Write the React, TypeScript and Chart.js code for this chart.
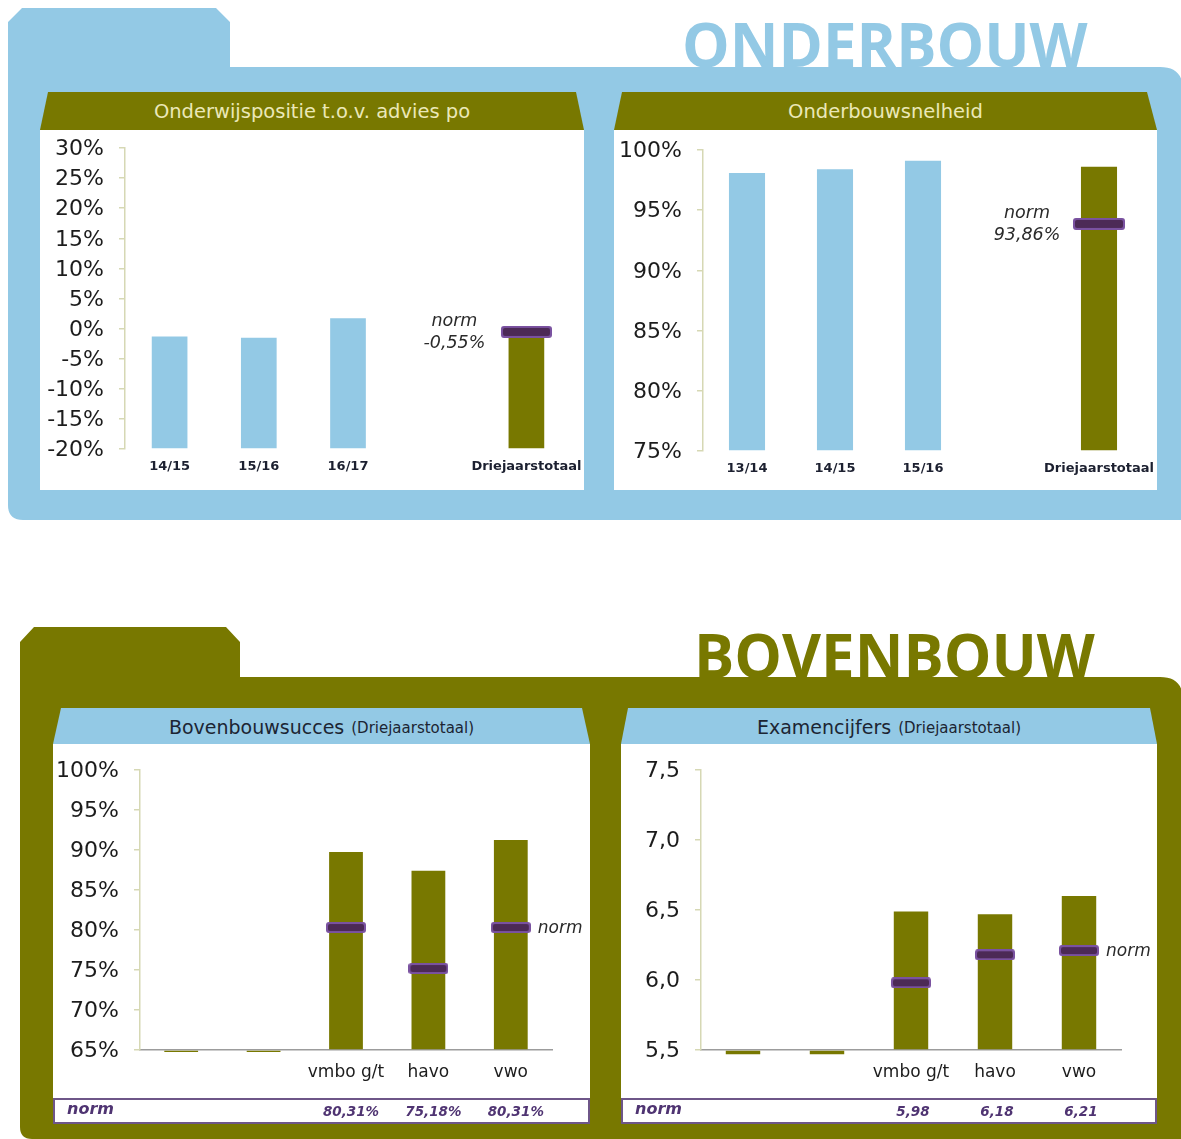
import React, { useEffect, useRef } from 'react';
import { Chart, registerables } from 'chart.js';

Chart.register(...registerables);

// ---------- DATA ----------
const posCategories = ['14/15', '15/16', '16/17', '', 'Driejaarstotaal'];
const posValues = [-1.3, -1.5, 1.7, null, -1.1];
const posNorms = [null, null, null, null, -0.55];
const posNormLabel = '-0,55%';
const posYTicks = { min: -20, max: 30, step: 5 };

const snelCategories = ['13/14', '14/15', '15/16', '', 'Driejaarstotaal'];
const snelValues = [98.1, 98.4, 99.1, null, 98.6];
const snelNorms = [null, null, null, null, 93.86];
const snelNormLabel = '93,86%';
const snelYTicks = { min: 75, max: 100, step: 5 };

const succesCategories = ['', '', 'vmbo g/t', 'havo', 'vwo'];
const succesValues = [64.75, 64.75, 89.75, 87.4, 91.25];
const succesNorms = [null, null, 80.31, 75.18, 80.31];
const succesNormLabels = ['', '', '80,31%', '75,18%', '80,31%'];
const succesYTicks = { min: 65, max: 100, step: 5 };

const examCategories = ['', '', 'vmbo g/t', 'havo', 'vwo'];
const examValues = [5.47, 5.47, 6.49, 6.47, 6.6];
const examNorms = [null, null, 5.98, 6.18, 6.21];
const examNormLabels = ['', '', '5,98', '6,18', '6,21'];
const examYTicks = { min: 5.5, max: 7.5, step: 0.5 };

// ---------- STYLE ----------
const BLUE = '#93c9e5';
const OLIVE = '#787800';
const AXIS_COL = '#d6d8b4';
const TICK_COL = '#1c1c1c';
const FONT = "'DejaVu Sans', Verdana, sans-serif";

function makeMarker(w: number, h: number) {
  const c = document.createElement('canvas');
  c.width = w;
  c.height = h;
  const ctx = c.getContext('2d')!;
  ctx.fillStyle = '#7a52a0';
  ctx.beginPath();
  (ctx as any).roundRect(0, 0, w, h, 3);
  ctx.fill();
  ctx.fillStyle = '#4c2a56';
  ctx.beginPath();
  (ctx as any).roundRect(2, 2, w - 4, h - 4, 2);
  ctx.fill();
  return c;
}

type Cfg = {
  categories: string[];
  values: (number | null)[];
  norms: (number | null)[];
  barColors: string[];
  yTicks: { min: number; max: number; step: number };
  fmt: (v: number) => string;
  yWidth: number;
  xHeight: number;
  padTop: number;
  padRight: number;
  xFont: any;
  xColor: string;
  xPad: number;
  xBorder: boolean;
  barPct: number;
  marker: HTMLCanvasElement;
  plugin: any;
};

function buildConfig(c: Cfg): any {
  return {
    type: 'bar',
    data: {
      labels: c.categories,
      datasets: [
        {
          type: 'line',
          data: c.norms,
          showLine: false,
          pointStyle: c.marker,
          pointRadius: 6,
          pointHoverRadius: 6,
          order: 0,
        },
        {
          type: 'bar',
          data: c.values,
          base: c.yTicks.min,
          backgroundColor: c.barColors,
          borderWidth: 0,
          categoryPercentage: 1,
          barPercentage: c.barPct,
          clip: false,
          order: 1,
        },
      ],
    },
    options: {
      responsive: false,
      animation: false,
      devicePixelRatio: 1,
      layout: { autoPadding: false, padding: { top: c.padTop, right: c.padRight, left: 0, bottom: 0 } },
      plugins: { legend: { display: false }, tooltip: { enabled: false } },
      scales: {
        x: {
          grid: { display: false, drawTicks: false },
          border: { display: c.xBorder, color: '#9c9c9c', width: 1.5 },
          ticks: { font: c.xFont, color: c.xColor, padding: c.xPad, maxRotation: 0, autoSkip: false },
          afterFit: (s: any) => {
            s.height = c.xHeight;
          },
        },
        y: {
          min: c.yTicks.min,
          max: c.yTicks.max,
          ticks: {
            stepSize: c.yTicks.step,
            autoSkip: false,
            labelOffset: 1.5,
            font: { family: FONT, size: 22 },
            color: TICK_COL,
            padding: 15,
            callback: (v: any) => c.fmt(Number(v)),
          },
          grid: { drawOnChartArea: false, drawTicks: true, tickLength: 6, color: AXIS_COL, lineWidth: 1.5 },
          border: { color: AXIS_COL, width: 1.5 },
          afterFit: (s: any) => {
            s.width = c.yWidth;
          },
        },
      },
    },
    plugins: [c.plugin],
  };
}

// annotation for top charts: "norm" + value to the left of marker
function topNormPlugin(label: string) {
  return {
    id: 'topNorm',
    afterDatasetsDraw(chart: any) {
      const meta = chart.getDatasetMeta(0);
      const idx = meta.data.length - 1;
      const pt = meta.data[idx];
      const ctx = chart.ctx;
      ctx.save();
      ctx.fillStyle = '#2a2a2a';
      ctx.textAlign = 'center';
      ctx.textBaseline = 'middle';
      ctx.font = `italic 17.5px ${FONT}`;
      ctx.fillText('norm', pt.x - 72, pt.y - 10);
      ctx.fillText(label, pt.x - 72, pt.y + 12);
      ctx.restore();
    },
  };
}

// annotation + table for bottom charts
function bottomNormPlugin(labels: string[], tableTop: number, valOffset: number) {
  return {
    id: 'bottomNorm',
    afterDraw(chart: any) {
      const meta = chart.getDatasetMeta(0);
      const last = meta.data[meta.data.length - 1];
      const ctx = chart.ctx;
      const xs = chart.scales.x;
      ctx.save();
      ctx.fillStyle = '#2a2a2a';
      ctx.textAlign = 'left';
      ctx.textBaseline = 'middle';
      ctx.font = `italic 17px ${FONT}`;
      ctx.fillText('norm', last.x + 27, last.y + 1);
      // table row
      const w = chart.width;
      ctx.strokeStyle = '#6e5688';
      ctx.lineWidth = 2;
      ctx.strokeRect(1, tableTop + 1, w - 2, 24);
      ctx.fillStyle = '#4f3472';
      ctx.font = `italic bold 16px ${FONT}`;
      ctx.fillText('norm', 14, tableTop + 12);
      ctx.font = `italic bold 13.5px ${FONT}`;
      ctx.textAlign = 'center';
      labels.forEach((l, i) => {
        if (l) ctx.fillText(l, xs.getPixelForValue(i) + valOffset, tableTop + 14);
      });
      ctx.restore();
    },
  };
}

function ChartBox({ left, top, width, height, build }: any) {
  const ref = useRef<HTMLCanvasElement>(null);
  useEffect(() => {
    const chart = new Chart(ref.current!, build());
    return () => chart.destroy();
  }, []);
  return (
    <canvas
      ref={ref}
      width={width}
      height={height}
      style={{ position: 'absolute', left, top, width, height, display: 'block' }}
    />
  );
}

const pct = (v: number) => `${v}%`;
const comma = (v: number) => v.toFixed(1).replace('.', ',');

function Header({ x, y, w, h, color, size, children }: any) {
  return (
    <div
      style={{
        position: 'absolute',
        left: x,
        top: y,
        width: w,
        height: h,
        display: 'flex',
        alignItems: 'center',
        justifyContent: 'center',
        color,
        fontFamily: FONT,
        fontSize: size,
        whiteSpace: 'nowrap',
      }}
    >
      {children}
    </div>
  );
}

export default function App() {
  const topBarColors = [BLUE, BLUE, BLUE, BLUE, OLIVE];
  const botBarColors = [OLIVE, OLIVE, OLIVE, OLIVE, OLIVE];
  return (
    <div
      style={{
        position: 'absolute',
        left: 0,
        top: 0,
        width: 1181,
        height: 1139,
        overflow: 'hidden',
        background: '#ffffff',
      }}
    >
      <div
        style={{
          position: 'absolute',
          left: 682,
          top: 14,
          fontFamily: "'Open Sans', sans-serif",
          fontWeight: 700,
          fontSize: 60,
          lineHeight: '60px',
          color: BLUE,
          whiteSpace: 'nowrap',
        }}
      >
        ONDERBOUW
      </div>
      <div
        style={{
          position: 'absolute',
          left: 694,
          top: 625,
          fontFamily: "'Open Sans', sans-serif",
          fontWeight: 700,
          fontSize: 60,
          lineHeight: '60px',
          color: OLIVE,
          whiteSpace: 'nowrap',
        }}
      >
        BOVENBOUW
      </div>
      <svg width={1181} height={1139} style={{ position: 'absolute', left: 0, top: 0 }}>
        <path
          d="M 8 22 L 22 8 L 216 8 L 230 22 L 230 67 L 1160 67 Q 1183 67 1183 90 L 1183 520 L 23 520 Q 8 520 8 505 Z"
          fill={BLUE}
        />
        <path
          d="M 20 642 L 34 627 L 226 627 L 240 642 L 240 677 L 1160 677 Q 1183 677 1183 700 L 1183 1139 L 32 1139 Q 20 1139 20 1127 Z"
          fill={OLIVE}
        />
        <path d="M 48 92 L 576 92 L 584 130 L 40 130 Z" fill={OLIVE} />
        <path d="M 622 92 L 1147 92 L 1157 130 L 614 130 Z" fill={OLIVE} />
        <path d="M 61 708 L 582 708 L 590 744 L 53 744 Z" fill={BLUE} />
        <path d="M 628 708 L 1150 708 L 1157 744 L 621 744 Z" fill={BLUE} />
        <rect x={40} y={130} width={544} height={360} fill="#ffffff" />
        <rect x={614} y={130} width={543} height={360} fill="#ffffff" />
        <rect x={53} y={744} width={537} height={380} fill="#ffffff" />
        <rect x={621} y={744} width={536} height={380} fill="#ffffff" />
      </svg>

      <Header x={40} y={92} w={544} h={38} color="#ebe8b8" size={19.5}>
        Onderwijspositie t.o.v. advies po
      </Header>
      <Header x={614} y={92} w={543} h={38} color="#ebe8b8" size={19.5}>
        Onderbouwsnelheid
      </Header>
      <Header x={53} y={708} w={537} h={37} color="#1c2533" size={19}>
        <span>Bovenbouwsucces</span>
        <span style={{ fontSize: 15, marginLeft: 7, marginTop: 3 }}>(Driejaarstotaal)</span>
      </Header>
      <Header x={621} y={708} w={536} h={37} color="#1c2533" size={19}>
        <span>Examencijfers</span>
        <span style={{ fontSize: 15, marginLeft: 7, marginTop: 3 }}>(Driejaarstotaal)</span>
      </Header>

      <ChartBox
        left={40}
        top={108}
        width={556}
        height={382}
        build={() =>
          buildConfig({
            categories: posCategories,
            values: posValues,
            norms: posNorms,
            barColors: topBarColors,
            yTicks: posYTicks,
            fmt: pct,
            yWidth: 85,
            xHeight: 41,
            padTop: 40,
            padRight: 25,
            xFont: { family: FONT, size: 13, weight: 'bold' },
            xColor: '#1c2030',
            xPad: 10,
            xBorder: false,
            barPct: 0.4,
            marker: makeMarker(51, 12),
            plugin: topNormPlugin(posNormLabel),
          })
        }
      />
      <ChartBox
        left={614}
        top={110}
        width={554}
        height={380}
        build={() =>
          buildConfig({
            categories: snelCategories,
            values: snelValues,
            norms: snelNorms,
            barColors: topBarColors,
            yTicks: snelYTicks,
            fmt: pct,
            yWidth: 89,
            xHeight: 39,
            padTop: 40,
            padRight: 25,
            xFont: { family: FONT, size: 13, weight: 'bold' },
            xColor: '#1c2030',
            xPad: 10,
            xBorder: false,
            barPct: 0.41,
            marker: makeMarker(52, 12),
            plugin: topNormPlugin(snelNormLabel),
          })
        }
      />
      <ChartBox
        left={53}
        top={730}
        width={537}
        height={394}
        build={() =>
          buildConfig({
            categories: succesCategories,
            values: succesValues,
            norms: succesNorms,
            barColors: botBarColors,
            yTicks: succesYTicks,
            fmt: pct,
            yWidth: 87,
            xHeight: 74,
            padTop: 40,
            padRight: 38,
            xFont: { family: FONT, size: 17 },
            xColor: '#1c1c1c',
            xPad: 12,
            xBorder: true,
            barPct: 0.41,
            marker: makeMarker(40, 11),
            plugin: bottomNormPlugin(succesNormLabels, 368, 5),
          })
        }
      />
      <ChartBox
        left={621}
        top={730}
        width={536}
        height={394}
        build={() =>
          buildConfig({
            categories: examCategories,
            values: examValues,
            norms: examNorms,
            barColors: botBarColors,
            yTicks: examYTicks,
            fmt: comma,
            yWidth: 80,
            xHeight: 74,
            padTop: 40,
            padRight: 36,
            xFont: { family: FONT, size: 17 },
            xColor: '#1c1c1c',
            xPad: 12,
            xBorder: true,
            barPct: 0.41,
            marker: makeMarker(40, 11),
            plugin: bottomNormPlugin(examNormLabels, 368, 2),
          })
        }
      />
    </div>
  );
}
